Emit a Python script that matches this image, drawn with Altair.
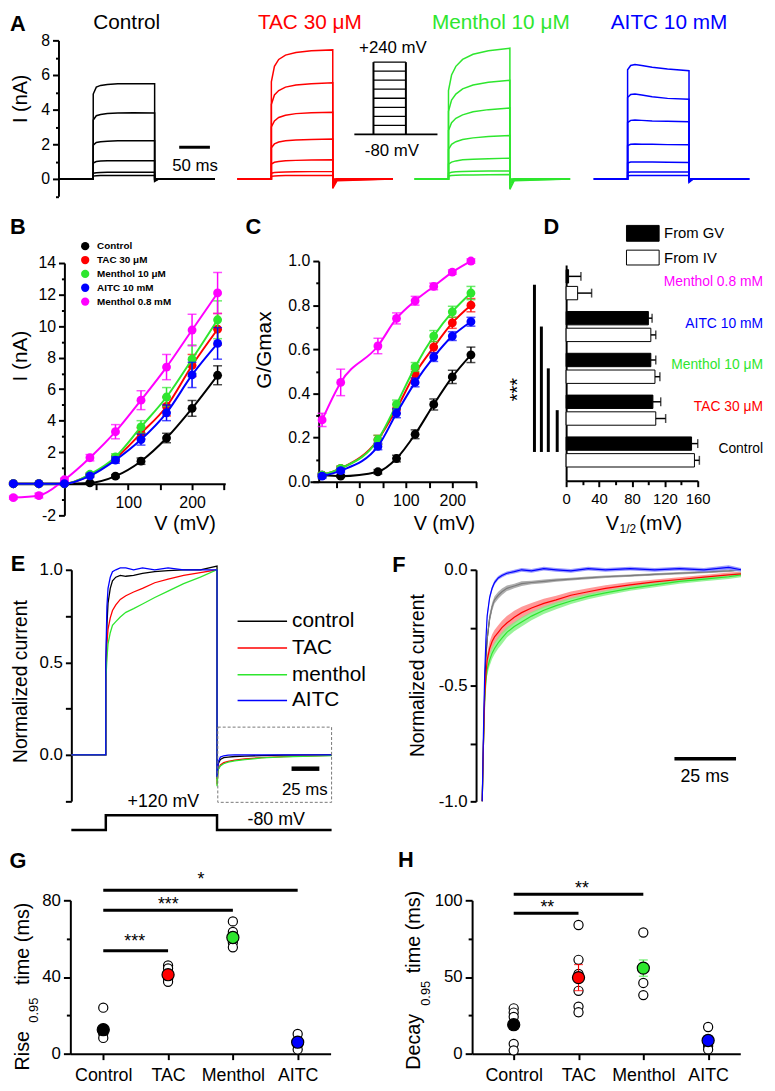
import altair as alt
import pandas as pd

FONT = "Liberation Sans"
BLACK, RED, GREEN, BLUE, MAG = "#000000", "#ff0000", "#2ee62e", "#0000ff", "#ff00ff"
W, H = 767, 1083


def px(x):
    return x - 8


def py(y):
    return y - 8


ONE = pd.DataFrame({"k": [0]})
KEEP = alt.Undefined  # let a sub-layer share the axis defined by its sibling

# ---------------- Panel A: current traces ----------------
A_TIME = [0, 55, 55, 60, 67, 78, 95, 120, 155, 155, 162, 253]
A_CONTROL = [
    [0, 0, 4.9, 5.3, 5.4, 5.45, 5.5, 5.5, 5.5, -0.15, 0, 0],
    [0, 0, 3.4, 3.65, 3.72, 3.78, 3.8, 3.82, 3.8, -0.1, 0, 0],
    [0, 0, 1.95, 2.1, 2.15, 2.18, 2.2, 2.2, 2.2, -0.05, 0, 0],
    [0, 0, 0.92, 1.0, 1.03, 1.05, 1.05, 1.05, 1.05, 0, 0, 0],
    [0, 0, 0.33, 0.36, 0.37, 0.38, 0.38, 0.38, 0.38, 0, 0, 0],
    [0, 0, 0.16, 0.18, 0.19, 0.19, 0.19, 0.19, 0.19, 0, 0, 0],
]
A_TAC = [
    [0, 0, 5.6, 6.5, 6.9, 7.15, 7.3, 7.4, 7.45, -0.55, -0.1, 0],
    [0, 0, 4.3, 4.85, 5.1, 5.3, 5.42, 5.5, 5.55, -0.4, -0.06, 0],
    [0, 0, 3.0, 3.35, 3.55, 3.68, 3.77, 3.82, 3.85, -0.3, -0.04, 0],
    [0, 0, 1.8, 2.02, 2.13, 2.2, 2.25, 2.28, 2.3, -0.2, -0.02, 0],
    [0, 0, 0.86, 0.96, 1.01, 1.05, 1.07, 1.09, 1.1, -0.1, 0, 0],
    [0, 0, 0.33, 0.37, 0.39, 0.4, 0.41, 0.42, 0.42, -0.05, 0, 0],
    [0, 0, 0.15, 0.17, 0.18, 0.19, 0.19, 0.2, 0.2, 0, 0, 0],
]
A_MENTHOL = [
    [0, 0, 5.1, 6.0, 6.5, 6.9, 7.2, 7.4, 7.55, -0.6, -0.1, 0],
    [0, 0, 3.9, 4.55, 4.9, 5.2, 5.42, 5.58, 5.7, -0.45, -0.07, 0],
    [0, 0, 2.8, 3.25, 3.5, 3.7, 3.88, 4.0, 4.1, -0.3, -0.04, 0],
    [0, 0, 1.7, 2.0, 2.15, 2.27, 2.37, 2.45, 2.5, -0.2, -0.02, 0],
    [0, 0, 0.85, 0.97, 1.04, 1.1, 1.14, 1.17, 1.2, -0.1, 0, 0],
    [0, 0, 0.33, 0.38, 0.41, 0.43, 0.44, 0.45, 0.46, -0.05, 0, 0],
    [0, 0, 0.17, 0.2, 0.21, 0.22, 0.23, 0.24, 0.25, 0, 0, 0],
]
A_AITC = [
    [0, 0, 6.3, 6.55, 6.6, 6.55, 6.45, 6.35, 6.25, -0.2, 0, 0],
    [0, 0, 4.7, 4.88, 4.9, 4.85, 4.75, 4.65, 4.6, -0.15, 0, 0],
    [0, 0, 3.25, 3.38, 3.4, 3.38, 3.35, 3.33, 3.3, -0.1, 0, 0],
    [0, 0, 1.92, 2.0, 2.02, 2.0, 2.0, 1.98, 1.97, -0.05, 0, 0],
    [0, 0, 0.92, 0.97, 0.98, 0.97, 0.97, 0.96, 0.95, 0, 0, 0],
    [0, 0, 0.37, 0.4, 0.4, 0.4, 0.4, 0.4, 0.4, 0, 0, 0],
    [0, 0, 0.18, 0.2, 0.2, 0.2, 0.2, 0.2, 0.2, 0, 0, 0],
]
A_TITLES = ["Control", "TAC 30 μM", "Menthol 10 μM", "AITC 10 mM"]
A_SCALEBAR_MS = [195, 50]  # start, length
PROT_LEVELS = [-80, -40, 0, 40, 80, 120, 160, 200, 240]
PROT_TIMES = [0, 23, 62, 100]  # start, step on, step off, end (schematic)

# ---------------- Panel B: I-V ----------------
B_V = [-80, -40, 0, 40, 80, 120, 160, 200, 240]
B_NAMES = ["Control", "TAC 30 μM", "Menthol 10 μM", "AITC 10 mM", "Menthol 0.8 mM"]
B_CONTROL = [0, 0, 0, 0.05, 0.48, 1.43, 2.9, 4.78, 6.88]
B_CONTROL_ERR = [0.05, 0.05, 0.05, 0.05, 0.1, 0.2, 0.3, 0.5, 0.6]
B_TAC = [0, 0, 0, 0.55, 1.6, 3.2, 4.9, 7.5, 9.8]
B_TAC_ERR = [0.05, 0.05, 0.05, 0.1, 0.2, 0.35, 0.6, 0.7, 1.0]
B_MENTHOL10 = [0, 0, 0, 0.6, 1.7, 3.6, 5.5, 7.9, 10.4]
B_MENTHOL10_ERR = [0.05, 0.05, 0.05, 0.1, 0.2, 0.4, 0.6, 0.9, 1.2]
B_AITC = [0, 0, 0, 0.5, 1.5, 2.8, 4.5, 6.9, 8.9]
B_AITC_ERR = [0.05, 0.05, 0.05, 0.1, 0.2, 0.35, 0.5, 0.8, 1.0]
B_MENTHOL08 = [-0.88, -0.75, 0.25, 1.65, 3.3, 5.3, 7.4, 9.75, 12.1]
B_MENTHOL08_ERR = [0.1, 0.15, 0.1, 0.2, 0.45, 0.6, 0.8, 1.0, 1.3]

# ---------------- Panel C: G-V ----------------
C_V = [-80, -40, 40, 80, 120, 160, 200, 240]
C_CONTROL = [0.03, 0.025, 0.045, 0.105, 0.215, 0.35, 0.475, 0.575]
C_CONTROL_ERR = [0.005, 0.005, 0.01, 0.015, 0.02, 0.025, 0.03, 0.035]
C_TAC = [0.03, 0.06, 0.19, 0.33, 0.49, 0.61, 0.72, 0.80]
C_TAC_ERR = [0.01, 0.01, 0.02, 0.02, 0.02, 0.025, 0.025, 0.03]
C_MENTHOL10 = [0.03, 0.06, 0.19, 0.35, 0.52, 0.66, 0.77, 0.855]
C_MENTHOL10_ERR = [0.01, 0.01, 0.02, 0.02, 0.02, 0.025, 0.025, 0.03]
C_AITC = [0.025, 0.05, 0.16, 0.31, 0.45, 0.565, 0.66, 0.725]
C_AITC_ERR = [0.01, 0.01, 0.015, 0.02, 0.02, 0.02, 0.02, 0.02]
C_MENTHOL08 = [0.28, 0.45, 0.615, 0.74, 0.82, 0.885, 0.95, 1.0]
C_MENTHOL08_ERR = [0.03, 0.06, 0.035, 0.025, 0.02, 0.015, 0.01, 0.01]

# ---------------- Panel D: V1/2 ----------------
D_GROUPS = ["Menthol 0.8 mM", "AITC 10 mM", "Menthol  10 μM", "TAC 30 μM", "Control"]
D_GROUP_COLORS = [MAG, BLUE, GREEN, RED, BLACK]
D_GV = [3, 100, 103, 105.5, 152.5]
D_GV_ERR = [15, 4.5, 6, 9.5, 7.5]
D_IV = [14, 103, 108, 109, 156]
D_IV_ERR = [17, 6, 6, 12, 6]
D_SIG_FROM = ["Menthol 0.8 mM", "AITC 10 mM", "Menthol  10 μM", "TAC 30 μM"]

# ---------------- Panel E: normalized rise ----------------
E_TIME = [-31, 0, 0, 1, 2, 4, 6, 9, 13, 18, 25, 33, 44, 56, 70, 85, 100,
          100, 101, 103, 106, 110, 116, 125, 140, 160, 203]
E_CONTROL = [0, 0, 0.45, 0.7, 0.82, 0.9, 0.94, 0.96, 0.97, 0.965, 0.97, 0.98, 0.99, 0.995, 1.0, 1.0, 1.02,
             -0.13, -0.05, -0.025, -0.015, -0.012, -0.009, -0.007, -0.004, -0.002, 0]
E_TAC = [0, 0, 0.4, 0.6, 0.68, 0.74, 0.78, 0.81, 0.84, 0.86, 0.88, 0.9, 0.93, 0.95, 0.97, 0.985, 1.0,
         -0.16, -0.08, -0.055, -0.042, -0.035, -0.029, -0.022, -0.015, -0.01, -0.003]
E_MENTHOL = [0, 0, 0.4, 0.52, 0.6, 0.66, 0.7, 0.72, 0.745, 0.77, 0.79, 0.815, 0.85, 0.885, 0.925, 0.96, 1.0,
             -0.17, -0.08, -0.06, -0.048, -0.04, -0.033, -0.026, -0.017, -0.011, -0.004]
E_AITC = [0, 0, 0.5, 0.8, 0.9, 0.96, 0.99, 1.0, 1.01, 1.01, 1.0, 1.01, 1.0, 1.01, 1.0, 1.0, 1.0,
          -0.12, -0.04, -0.012, -0.005, -0.002, 0, 0, 0, 0, 0]
E_LEGEND = ["control", "TAC", "menthol", "AITC"]
E_PROT_T = [-31, 0, 0, 100, 100, 203]
E_PROT_V = [-80, -80, 120, 120, -80, -80]
E_SCALEBAR_MS = [167, 25]

# ---------------- Panel F: tail currents ----------------
F_TIME = [0, 0.5, 1, 1.5, 2, 3, 4, 5, 6.5, 8, 10, 13, 16, 20, 25, 30, 36, 43, 50, 60, 70, 80, 90, 100, 105]
F_AITC = [-1.0, -0.7, -0.45, -0.3, -0.2, -0.12, -0.08, -0.055, -0.035, -0.025, -0.015, -0.008, 0.0,
          -0.005, 0.005, 0.0, -0.005, 0.005, 0.0, 0.005, 0.0, 0.005, 0.0, 0.01, 0.0]
F_AITC_SEM = [0, 0.01, 0.015, 0.015, 0.015, 0.012, 0.01, 0.01, 0.008, 0.008, 0.008, 0.008, 0.008,
              0.008, 0.008, 0.008, 0.008, 0.008, 0.008, 0.008, 0.008, 0.008, 0.008, 0.01, 0.008]
F_CONTROL = [-1.0, -0.75, -0.52, -0.38, -0.3, -0.21, -0.16, -0.13, -0.11, -0.095, -0.08, -0.07, -0.06,
             -0.055, -0.05, -0.045, -0.04, -0.035, -0.03, -0.025, -0.02, -0.015, -0.01, -0.005, 0.0]
F_CONTROL_SEM = [0, 0.01, 0.02, 0.02, 0.02, 0.02, 0.018, 0.016, 0.015, 0.014, 0.012, 0.01, 0.01,
                 0.008, 0.008, 0.007, 0.006, 0.006, 0.005, 0.005, 0.005, 0.005, 0.005, 0.005, 0.005]
F_TAC = [-1.0, -0.75, -0.55, -0.45, -0.39, -0.34, -0.31, -0.29, -0.27, -0.25, -0.23, -0.205, -0.185,
         -0.165, -0.145, -0.13, -0.11, -0.095, -0.08, -0.065, -0.052, -0.042, -0.032, -0.022, -0.018]
F_TAC_SEM = [0, 0.01, 0.02, 0.025, 0.03, 0.03, 0.03, 0.03, 0.03, 0.03, 0.03, 0.028, 0.025,
             0.022, 0.02, 0.018, 0.016, 0.015, 0.013, 0.012, 0.01, 0.01, 0.01, 0.01, 0.01]
F_MENTHOL = [-1.0, -0.75, -0.57, -0.48, -0.43, -0.39, -0.36, -0.34, -0.315, -0.295, -0.27, -0.245, -0.225,
             -0.2, -0.175, -0.155, -0.135, -0.115, -0.1, -0.08, -0.065, -0.05, -0.04, -0.03, -0.022]
F_MENTHOL_SEM = [0, 0.01, 0.02, 0.025, 0.025, 0.025, 0.025, 0.025, 0.025, 0.025, 0.022, 0.02, 0.02,
                 0.018, 0.016, 0.015, 0.013, 0.012, 0.011, 0.01, 0.01, 0.01, 0.01, 0.01, 0.01]
F_SCALEBAR_MS = [78, 25]

# ---------------- Panels G, H ----------------
CATS = ["Control", "TAC", "Menthol", "AITC"]
CAT_COLORS = [BLACK, RED, GREEN, BLUE]
G_MEAN = [12.5, 41.2, 60.6, 6.0]
G_SEM = [2.0, 1.5, 2.5, 1.5]
G_INDIV = [[24, 13, 10.5, 8.2, 12], [46, 44.5, 41, 39, 37.5], [69, 63.5, 58, 55.5], [10.3, 6.5, 4.8, 2.2]]
G_SIG = [("Control", "TAC", 53.7), ("Control", "Menthol", 74.8), ("Control", "AITC", 85.2)]
H_MEAN = [18.9, 49.6, 55.8, 8.6]
H_SEM = [3.0, 8.5, 5.3, 3.0]
H_INDIV = [[29.6, 26.8, 24, 18.9, 6.4, 2.1], [83.9, 61.2, 52, 41, 30.7, 27], [79, 46.1, 38.2], [17.4, 5, 2.8]]
H_SIG = [("Control", "TAC", 91.6), ("Control", "Menthol", 103.9)]


# ---------------- helpers ----------------
def lin(domain, rng):
    return alt.Scale(domain=domain, range=rng, zero=False, nice=False)


def axis(orient, offset, values=None, label_test=None, major_test=None, fmt=None,
         size=16, tick=6, minor=3, pad=3, labels=True, ticks=True, angle=None):
    kw = dict(orient=orient, offset=offset, title=None, grid=False,
              domainColor=BLACK, domainWidth=2, tickColor=BLACK, tickWidth=2,
              labelFont=FONT, labelFontSize=size, labelColor=BLACK,
              labelPadding=pad, labelFlush=False, labelOverlap=False,
              ticks=ticks, labels=labels)
    if values is not None:
        kw["values"] = values
    lab = "replace(datum.label, '\u2212', '-')"
    kw["labelExpr"] = f"({label_test}) ? {lab} : ''" if label_test else lab
    if major_test:
        kw["tickSize"] = {"condition": {"test": major_test, "value": tick}, "value": minor}
    else:
        kw["tickSize"] = tick
    if fmt:
        kw["format"] = fmt
    if angle is not None:
        kw["labelAngle"] = angle
        kw["labelAlign"] = "center"
        kw["labelBaseline"] = "top"
    return alt.Axis(**kw)


def txt(s, x, y, size=16, color=BLACK, align="center", baseline="middle", angle=0, bold=False):
    return alt.Chart(ONE).mark_text(
        text=s, font=FONT, fontSize=size, color=color, align=align, baseline=baseline,
        angle=angle, fontWeight="bold" if bold else "normal",
    ).encode(x=alt.value(px(x)), y=alt.value(py(y)))


def traces_long(time, traces):
    rows = []
    for k, tr in enumerate(traces):
        for i, (t, v) in enumerate(zip(time, tr)):
            rows.append({"trace": k, "i": i, "t": t, "v": v})
    return pd.DataFrame(rows)


layers = []

# ---------------- Panel A ----------------
A_Y = lin([-1, 8], [py(192.5), py(35)])
A_XR = [(60, 217), (240, 397), (419, 576), (600, 757)]
for j, (traces, (x0, x1), col) in enumerate(zip([A_CONTROL, A_TAC, A_MENTHOL, A_AITC], A_XR,
                                                 [BLACK, RED, GREEN, BLUE])):
    xs = lin([0, 253], [px(x0), px(x1)])
    yax = axis("left", -px(59), list(range(-1, 9)), label_test="datum.value % 2 === 0",
               major_test="datum.value % 2 === 0", size=16, fmt="d") if j == 0 else None
    ch = alt.Chart(traces_long(A_TIME, traces)).mark_line(color=col, strokeWidth=1.5).encode(
        x=alt.X("t:Q", scale=xs, axis=None),
        y=alt.Y("v:Q", scale=A_Y, axis=yax),
        detail="trace:N", order="i:Q")
    if j == 0:
        bar = alt.Chart(pd.DataFrame({"t0": [A_SCALEBAR_MS[0]],
                                      "t1": [A_SCALEBAR_MS[0] + A_SCALEBAR_MS[1]]})).mark_rule(
            color=BLACK, strokeWidth=3).encode(x=alt.X("t0:Q", scale=xs, axis=None), x2="t1:Q",
                                               y=alt.value(py(143)))
        ch = alt.layer(ch, bar)
    layers.append(ch)

# voltage protocol inset
PX = lin([0, 100], [px(358), px(442)])
PY = lin([-80, 240], [py(130), py(57)])
p_h = pd.DataFrame({"t0": [PROT_TIMES[1]] * (len(PROT_LEVELS) - 1),
                    "t1": [PROT_TIMES[2]] * (len(PROT_LEVELS) - 1), "lev": PROT_LEVELS[1:]})
p_base = pd.DataFrame({"t0": [PROT_TIMES[0]], "t1": [PROT_TIMES[3]], "lev": [PROT_LEVELS[0]]})
p_v = pd.DataFrame({"t": PROT_TIMES[1:3], "lo": [PROT_LEVELS[0]] * 2, "hi": [PROT_LEVELS[-1]] * 2})
layers.append(alt.layer(
    alt.Chart(p_base).mark_rule(color=BLACK, strokeWidth=2).encode(
        x=alt.X("t0:Q", scale=PX, axis=None), x2="t1:Q", y=alt.Y("lev:Q", scale=PY, axis=None)),
    alt.Chart(p_h).mark_rule(color=BLACK, strokeWidth=1.3).encode(
        x=alt.X("t0:Q", scale=PX, axis=None), x2="t1:Q", y=alt.Y("lev:Q", scale=PY, axis=None)),
    alt.Chart(p_v).mark_rule(color=BLACK, strokeWidth=2).encode(
        x=alt.X("t:Q", scale=PX, axis=None), y=alt.Y("lo:Q", scale=PY, axis=None), y2="hi:Q"),
))

layers += [
    txt("A", 18, 19, size=22, bold=True),
    txt(A_TITLES[0], 128, 18, size=21, color=BLACK),
    txt(A_TITLES[1], 313, 18, size=21, color=RED),
    txt(A_TITLES[2], 506, 18, size=21, color=GREEN),
    txt(A_TITLES[3], 676, 18, size=21, color=BLUE),
    txt("I (nA)", 21, 94, size=20, angle=270),
    txt("+240 mV", 397, 43, size=17),
    txt("-80 mV", 396, 147, size=17),
    txt("50 ms", 197, 162, size=17),
]


# ---------------- Panels B and C ----------------
def curve_panel(V, series, xs, ys, xax, yax, size=80):
    out = []
    first = True
    for vals, errs, col in series:
        df = pd.DataFrame({"V": V, "I": vals, "e": errs})
        base = alt.Chart(df)
        xa = xax if first else KEEP
        ya = yax if first else KEEP
        first = False
        line = base.mark_line(color=col, strokeWidth=2, interpolate="monotone").encode(
            x=alt.X("V:Q", scale=xs, axis=xa), y=alt.Y("I:Q", scale=ys, axis=ya))
        eb = base.transform_calculate(lo="datum.I - datum.e", hi="datum.I + datum.e")
        err = eb.mark_rule(color=col, strokeWidth=1.5).encode(
            x=alt.X("V:Q", scale=xs), y=alt.Y("lo:Q", scale=ys), y2="hi:Q")
        cap_hi = eb.mark_tick(color=col, orient="horizontal", size=9, thickness=1.5).encode(
            x=alt.X("V:Q", scale=xs), y=alt.Y("hi:Q", scale=ys))
        cap_lo = eb.mark_tick(color=col, orient="horizontal", size=9, thickness=1.5).encode(
            x=alt.X("V:Q", scale=xs), y=alt.Y("lo:Q", scale=ys))
        pts = base.mark_circle(color=col, size=size, opacity=1).encode(
            x=alt.X("V:Q", scale=xs), y=alt.Y("I:Q", scale=ys))
        out += [line, err, cap_hi, cap_lo, pts]
    return alt.layer(*out)


BX = lin([-85, 252], [px(65 - 85 * 0.645), px(65 + 252 * 0.645)])
BY = lin([-2, 14], [py(514.9), py(260)])
b_series = [
    (B_CONTROL, B_CONTROL_ERR, BLACK),
    (B_TAC, B_TAC_ERR, RED),
    (B_MENTHOL10, B_MENTHOL10_ERR, GREEN),
    (B_MENTHOL08, B_MENTHOL08_ERR, MAG),
    (B_AITC, B_AITC_ERR, BLUE),
]
layers.append(curve_panel(
    B_V, b_series, BX, BY,
    axis("bottom", py(483) - H, [50, 100, 150, 200, 250], label_test="datum.value % 100 === 0",
         pad=5, fmt="d"),
    axis("left", -px(65), list(range(-2, 15)),
         label_test="datum.value % 2 === 0 && datum.value !== 0", major_test="datum.value % 2 === 0",
         fmt="d"),
))
b_cols = [BLACK, RED, GREEN, BLUE, MAG]
for i, (name, col) in enumerate(zip(B_NAMES, b_cols)):
    layers.append(alt.Chart(ONE).mark_circle(color=col, size=70, opacity=1).encode(
        x=alt.value(px(86)), y=alt.value(py(243 + 14 * i))))
    layers.append(txt(name, 98, 243 + 14 * i, size=10, align="left", bold=True))
layers += [
    txt("B", 18, 224, size=22, bold=True),
    txt("I (nA)", 21, 354, size=21, angle=270),
    txt("V (mV)", 187, 524, size=20),
]

CX = lin([-106, 252], [px(363 - 106 * 0.47), px(363 + 252 * 0.47)])
CY = lin([0, 1.0], [py(481), py(258)])
c_series = [
    (C_CONTROL, C_CONTROL_ERR, BLACK),
    (C_MENTHOL08, C_MENTHOL08_ERR, MAG),
    (C_TAC, C_TAC_ERR, RED),
    (C_MENTHOL10, C_MENTHOL10_ERR, GREEN),
    (C_AITC, C_AITC_ERR, BLUE),
]
tenth_even = "abs(datum.value * 5 - round(datum.value * 5)) < 0.000001"
layers.append(curve_panel(
    C_V, c_series, CX, CY,
    axis("bottom", py(481) - H, [-50, 0, 50, 100, 150, 200, 250], label_test="datum.value % 100 === 0",
         pad=5, fmt="d"),
    axis("left", -px(322), [round(0.1 * k, 1) for k in range(11)], label_test=tenth_even,
         major_test=tenth_even, fmt=".1f"),
))
layers += [
    txt("C", 256, 224, size=22, bold=True),
    txt("G/Gmax", 268, 348, size=21, angle=270),
    txt("V (mV)", 449, 524, size=20),
]

# ---------------- Panel D ----------------
d_rows = []
for g, gv, gve, iv, ive in zip(D_GROUPS, D_GV, D_GV_ERR, D_IV, D_IV_ERR):
    d_rows.append({"grp": g, "src": "From GV", "val": gv, "err": gve, "fill": "black"})
    d_rows.append({"grp": g, "src": "From IV", "val": iv, "err": ive, "fill": "white"})
d_df = pd.DataFrame(d_rows)
DX = lin([0, 160], [px(572), px(705)])
DY = alt.Scale(type="band", domain=D_GROUPS, range=[py(262), py(480)],
               paddingInner=0.2, paddingOuter=0.18, align=0.2)
DYO = alt.Scale(type="band", domain=["From GV", "From IV"], paddingInner=0.2, paddingOuter=0.1)
d_base = alt.Chart(d_df)
d_err = d_base.transform_calculate(hi="datum.val + datum.err")
d_lab = pd.DataFrame({"grp": D_GROUPS, "col": D_GROUP_COLORS})
d_sig = pd.DataFrame({"a": D_SIG_FROM, "b": ["Control"] * len(D_SIG_FROM)})
d_layers = [
    d_base.mark_bar(stroke=BLACK, strokeWidth=1).encode(
        x=alt.X("val:Q", scale=DX,
                axis=axis("bottom", py(480) - H, list(range(0, 161, 20)), label_test="datum.value % 40 === 0",
                          major_test="datum.value % 40 === 0", size=15, tick=6, minor=4, pad=5, fmt="d")),
        y=alt.Y("grp:N", scale=DY, axis=axis("left", -px(572), labels=False, ticks=False)),
        yOffset=alt.YOffset("src:N", scale=DYO),
        fill=alt.Fill("fill:N", scale=None)),
    d_err.mark_rule(color=BLACK, strokeWidth=1.5).encode(
        x=alt.X("val:Q", scale=DX), x2="hi:Q",
        y=alt.Y("grp:N", scale=DY), yOffset=alt.YOffset("src:N", scale=DYO)),
    d_err.mark_tick(color=BLACK, thickness=1.5, size=9).encode(
        x=alt.X("hi:Q", scale=DX),
        y=alt.Y("grp:N", scale=DY), yOffset=alt.YOffset("src:N", scale=DYO)),
    alt.Chart(d_lab).mark_text(font=FONT, fontSize=14, align="right", dy=-3).encode(
        x=alt.value(px(771)), y=alt.Y("grp:N", scale=DY), text="grp:N",
        color=alt.Color("col:N", scale=None)),
]
for k, xref in enumerate([540, 547, 554, 563]):
    d_layers.append(alt.Chart(d_sig.iloc[[k]]).mark_rule(color=BLACK, strokeWidth=3).encode(
        x=alt.value(px(xref)), y=alt.Y("a:N", scale=DY), y2="b:N"))
layers.append(alt.layer(*d_layers))
layers += [
    txt("D", 557, 224, size=22, bold=True),
    txt("***", 523, 388, size=20, angle=270),
    alt.Chart(ONE).mark_rect(fill=BLACK, stroke=BLACK).encode(
        x=alt.value(px(633)), x2=alt.value(px(666)), y=alt.value(py(222)), y2=alt.value(py(238))),
    alt.Chart(ONE).mark_rect(fill="white", stroke=BLACK, strokeWidth=1).encode(
        x=alt.value(px(633)), x2=alt.value(px(666)), y=alt.value(py(247)), y2=alt.value(py(262))),
    txt("From GV", 671, 230, size=15, align="left"),
    txt("From IV", 671, 255, size=15, align="left"),
    txt("V", 612, 524, size=20, align="left"),
    txt("1/2", 626, 529, size=12, align="left"),
    txt("(mV)", 646, 524, size=20, align="left"),
]

# ---------------- Panel E ----------------
EX = lin([-31, 203], [px(72), px(335)])
EY = lin([-0.25, 1.0], [py(803.75), py(570)])
e_layers = []
for k, (vals, col) in enumerate([(E_CONTROL, BLACK), (E_TAC, RED), (E_MENTHOL, GREEN), (E_AITC, BLUE)]):
    df = pd.DataFrame({"t": E_TIME, "v": vals, "i": list(range(len(E_TIME)))})
    yax = axis("left", -px(72), [-0.25, 0, 0.25, 0.5, 0.75, 1.0], label_test="datum.value % 0.5 === 0",
               fmt=".1f", size=17, tick=6) if k == 0 else KEEP
    e_layers.append(alt.Chart(df).mark_line(color=col, strokeWidth=1.3).encode(
        x=alt.X("t:Q", scale=EX, axis=None), y=alt.Y("v:Q", scale=EY, axis=yax), order="i:Q"))
e_layers.append(alt.Chart(pd.DataFrame({"t0": [E_SCALEBAR_MS[0]],
                                        "t1": [E_SCALEBAR_MS[0] + E_SCALEBAR_MS[1]]})).mark_rule(
    color=BLACK, strokeWidth=4.5).encode(x=alt.X("t0:Q", scale=EX, axis=None), x2="t1:Q", y=alt.value(py(771))))
layers.append(alt.layer(*e_layers))

EPY = lin([-80, 120], [py(833), py(818)])
layers.append(alt.Chart(pd.DataFrame({"t": E_PROT_T, "v": E_PROT_V, "i": list(range(len(E_PROT_T)))}))
              .mark_line(color=BLACK, strokeWidth=2.5).encode(
    x=alt.X("t:Q", scale=EX, axis=None), y=alt.Y("v:Q", scale=EPY, axis=None), order="i:Q"))

layers += [
    txt("E", 18, 564, size=22, bold=True),
    txt("Normalized current", 21, 683, size=19.5, angle=270),
    alt.Chart(ONE).mark_rect(fill="transparent", stroke="#777777", strokeWidth=1, strokeDash=[3, 2]).encode(
        x=alt.value(px(220)), x2=alt.value(px(335)), y=alt.value(py(729)), y2=alt.value(py(805))),
    txt("25 ms", 308, 793, size=17),
    txt("+120 mV", 165, 805, size=18),
    txt("-80 mV", 279, 823, size=18),
]
for i, (name, col) in enumerate(zip(E_LEGEND, [BLACK, RED, GREEN, BLUE])):
    yref = [622, 649, 676, 702][i]
    layers.append(alt.Chart(ONE).mark_rule(color=col, strokeWidth=1.5).encode(
        x=alt.value(px(240)), x2=alt.value(px(290)), y=alt.value(py(yref))))
    layers.append(txt(name, 295, yref, size=21, align="left"))

# ---------------- Panel F ----------------
FX = lin([-2.5, 105], [px(481), px(748.7)])
FY = lin([-1.0, 0.0], [py(804), py(570)])
f_series = [(F_CONTROL, F_CONTROL_SEM, BLACK, "#9a9a9a"), (F_TAC, F_TAC_SEM, RED, "#ff8080"),
            (F_MENTHOL, F_MENTHOL_SEM, GREEN, "#80f080"), (F_AITC, F_AITC_SEM, BLUE, "#8080ff")]
f_bands, f_lines = [], []
for k, (vals, sem, col, bcol) in enumerate(f_series):
    df = pd.DataFrame({"t": F_TIME, "v": vals, "s": sem})
    f_bands.append(alt.Chart(df).transform_calculate(lo="datum.v - datum.s", hi="datum.v + datum.s")
                   .mark_area(color=bcol, opacity=0.8).encode(
        x=alt.X("t:Q", scale=FX, axis=None), y=alt.Y("lo:Q", scale=FY), y2="hi:Q"))
    yax = axis("left", -px(481), [-1.0, -0.75, -0.5, -0.25, 0.0], label_test="datum.value % 0.5 === 0",
               fmt=".1f", size=17, tick=6) if k == 0 else KEEP
    f_lines.append(alt.Chart(df).mark_line(color=col, strokeWidth=1.2).encode(
        x=alt.X("t:Q", scale=FX, axis=None), y=alt.Y("v:Q", scale=FY, axis=yax)))
f_order = [f_lines[0], f_lines[2], f_lines[1], f_lines[3]]
f_bar = alt.Chart(pd.DataFrame({"t0": [F_SCALEBAR_MS[0]], "t1": [F_SCALEBAR_MS[0] + F_SCALEBAR_MS[1]]})).mark_rule(
    color=BLACK, strokeWidth=3.5).encode(x=alt.X("t0:Q", scale=FX, axis=None), x2="t1:Q", y=alt.value(py(761)))
layers.append(alt.layer(*([f_order[0]] + f_bands + f_order[1:] + [f_bar])))
layers += [
    txt("F", 403, 565, size=22, bold=True),
    txt("Normalized current", 422, 677, size=19.5, angle=270),
    txt("25 ms", 712, 779, size=18),
]


# ---------------- Panels G and H ----------------
def dot_panel(mean, sem, indiv, sig, xs, ys, xax, yax):
    ind = pd.DataFrame([{"cat": c, "val": v} for c, vs in zip(CATS, indiv) for v in vs])
    mdf = pd.DataFrame({"cat": CATS, "m": mean, "s": sem, "col": CAT_COLORS})
    sdf = pd.DataFrame({"a": [s[0] for s in sig], "b": [s[1] for s in sig], "y": [s[2] for s in sig]})
    mb = alt.Chart(mdf).transform_calculate(lo="datum.m - datum.s", hi="datum.m + datum.s")
    return alt.layer(
        alt.Chart(sdf).mark_rule(color=BLACK, strokeWidth=3).encode(
            x=alt.X("a:N", scale=xs, axis=xax), x2="b:N", y=alt.Y("y:Q", scale=ys, axis=yax)),
        alt.Chart(ind).mark_circle(fill="white", stroke=BLACK, strokeWidth=1.2, size=85, opacity=1).encode(
            x=alt.X("cat:N", scale=xs), y=alt.Y("val:Q", scale=ys)),
        mb.mark_rule(strokeWidth=1.2).encode(
            x=alt.X("cat:N", scale=xs), y=alt.Y("lo:Q", scale=ys), y2="hi:Q",
            color=alt.Color("col:N", scale=None)),
        mb.mark_tick(orient="horizontal", size=9, thickness=1.2).encode(
            x=alt.X("cat:N", scale=xs), y=alt.Y("hi:Q", scale=ys),
            color=alt.Color("col:N", scale=None)),
        mb.mark_tick(orient="horizontal", size=9, thickness=1.2).encode(
            x=alt.X("cat:N", scale=xs), y=alt.Y("lo:Q", scale=ys),
            color=alt.Color("col:N", scale=None)),
        alt.Chart(mdf).mark_circle(stroke=BLACK, strokeWidth=1.2, size=150, opacity=1).encode(
            x=alt.X("cat:N", scale=xs), y=alt.Y("m:Q", scale=ys),
            fill=alt.Fill("col:N", scale=None)),
    )


GX = alt.Scale(type="point", domain=CATS, range=[px(71), px(334)], padding=0.508, align=0.5)
GY = lin([0, 80], [py(1059), py(904)])
layers.append(dot_panel(
    G_MEAN, G_SEM, G_INDIV, G_SIG, GX, GY,
    axis("bottom", py(1059) - H, size=18, pad=7, tick=6, angle=0),
    axis("left", -px(71), [0, 20, 40, 60, 80], label_test="datum.value % 40 === 0",
         major_test="datum.value % 40 === 0", size=17, tick=7, minor=4, fmt="d"),
))
HX = alt.Scale(type="point", domain=CATS, range=[px(477), px(748)], padding=0.569, align=0.564)
HY = lin([0, 100], [py(1059), py(904)])
layers.append(dot_panel(
    H_MEAN, H_SEM, H_INDIV, H_SIG, HX, HY,
    axis("bottom", py(1059) - H, size=18, pad=7, tick=6, angle=0),
    axis("left", -px(477), [0, 25, 50, 75, 100], label_test="datum.value % 50 === 0",
         major_test="datum.value % 50 === 0", size=17, tick=7, minor=4, fmt="d"),
))
layers += [
    txt("G", 18, 864, size=22, bold=True),
    txt("Rise", 23, 1056, size=20, angle=270),
    txt("0.95", 34, 1015, size=13, angle=270),
    txt("time (ms)", 23, 948, size=20, angle=270),
    txt("***", 136, 946, size=18),
    txt("***", 170, 909, size=18),
    txt("*", 203, 884, size=18),
    txt("H", 410, 863, size=22, bold=True),
    txt("Decay", 418, 1047, size=20, angle=270),
    txt("0.95", 430, 998, size=13, angle=270),
    txt("time (ms)", 418, 936, size=20, angle=270),
    txt("**", 553, 912, size=18),
    txt("**", 588, 893, size=18),
]

chart = (
    alt.layer(*layers)
    .resolve_scale(x="independent", y="independent")
    .resolve_axis(x="independent", y="independent")
    .properties(width=W, height=H, padding=0, background="white",
                autosize=alt.AutoSizeParams(type="none"))
    .configure_view(stroke=None)
)

chart.save("out.html", embed_options={"renderer": "svg", "actions": False})
